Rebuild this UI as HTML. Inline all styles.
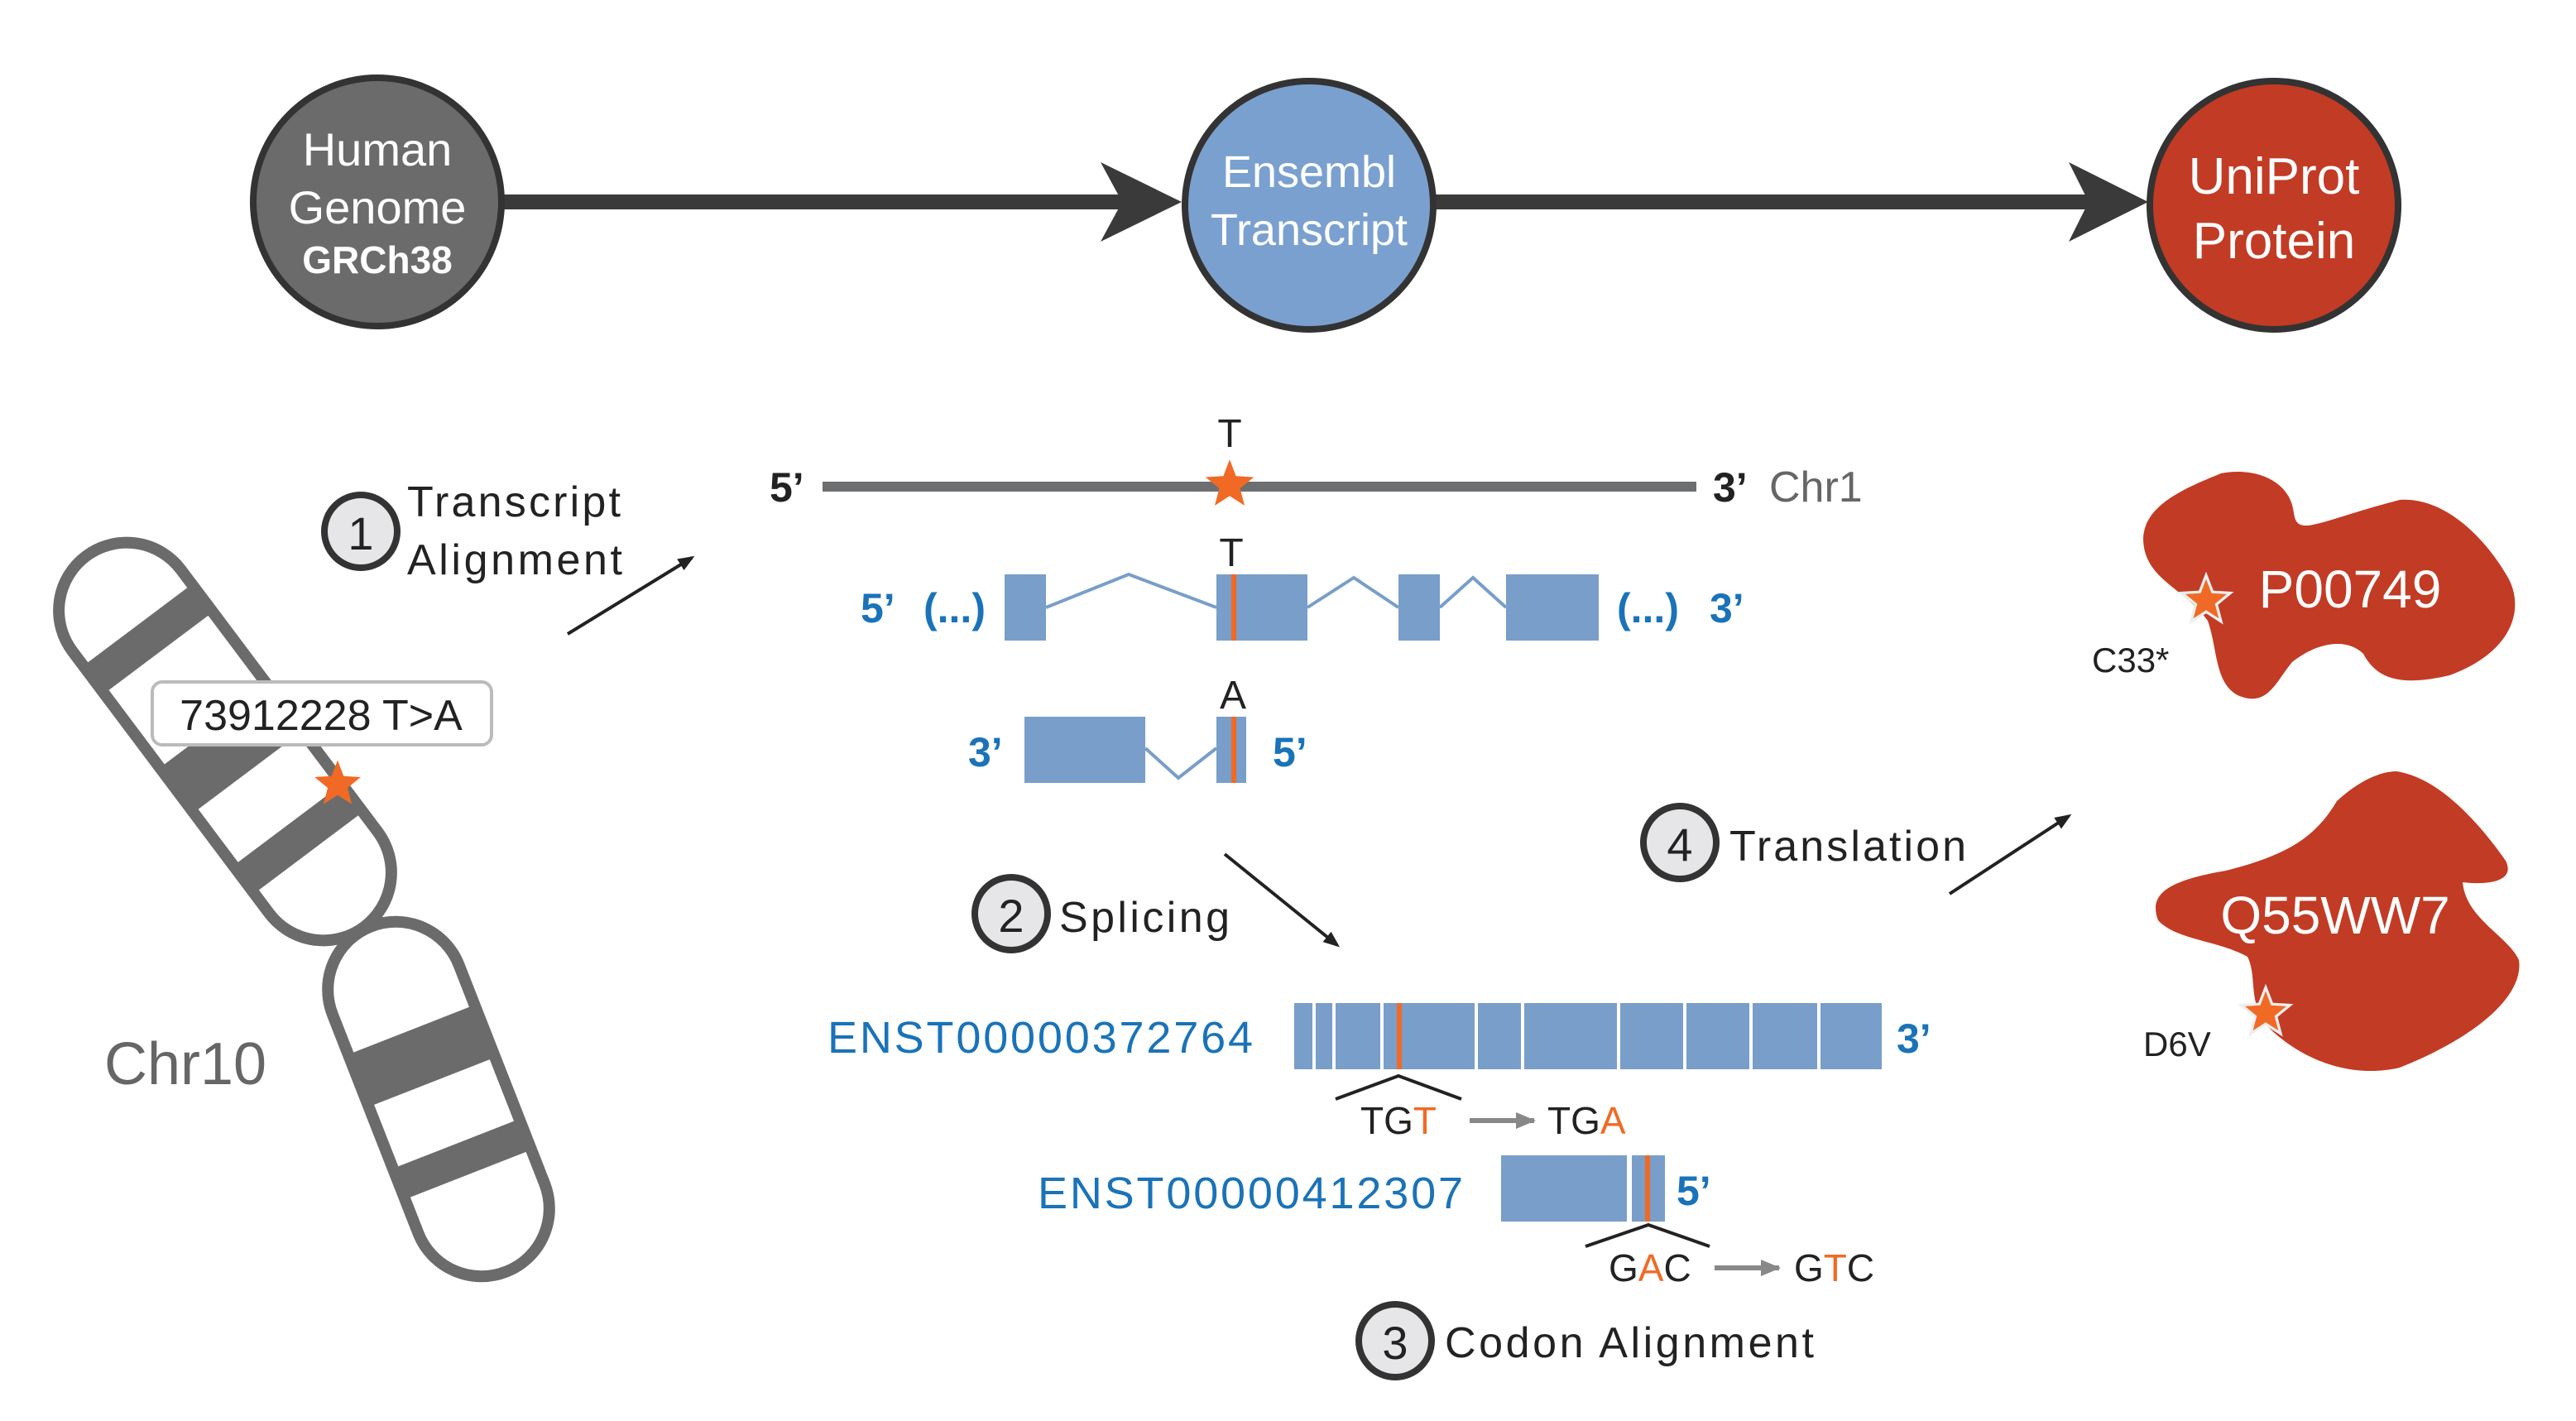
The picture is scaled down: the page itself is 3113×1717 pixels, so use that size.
<!DOCTYPE html>
<html><head><meta charset="utf-8"><style>
html,body{margin:0;padding:0;background:#fff;}
svg{display:block;}
text{font-family:"Liberation Sans",Arial,sans-serif;}
</style></head><body>
<svg width="3113" height="1717" viewBox="0 0 1556.5 858.5" preserveAspectRatio="none" xmlns="http://www.w3.org/2000/svg">
<defs>
<polygon id="star" points="0,-14 3.5,-4.9 13.3,-4.3 5.7,1.9 8.2,11.3 0,6 -8.2,11.3 -5.7,1.9 -13.3,-4.3 -3.5,-4.9"/>
<marker id="ah" markerWidth="10" markerHeight="10" refX="8" refY="5" orient="auto" markerUnits="userSpaceOnUse"><path d="M0,1 L10,5 L0,9 z" fill="#222"/></marker>
<marker id="gh" markerWidth="12" markerHeight="12" refX="11" refY="6" orient="auto" markerUnits="userSpaceOnUse"><path d="M0,1 L12,6 L0,11 z" fill="#888"/></marker>
</defs>

<line x1="300" y1="122" x2="680" y2="122" stroke="#3a3a3a" stroke-width="9"/>
<path d="M665,98 L714,122 L665,146 L678,122 z" fill="#3a3a3a"/>
<line x1="866" y1="122" x2="1262" y2="122" stroke="#3a3a3a" stroke-width="9"/>
<path d="M1250,98 L1298,122 L1250,146 L1262,122 z" fill="#3a3a3a"/>
<circle cx="228" cy="122" r="75" fill="#6b6b6b" stroke="#333" stroke-width="4"/>
<circle cx="791" cy="124" r="75" fill="#7aa0cf" stroke="#333" stroke-width="4"/>
<circle cx="1374" cy="124" r="75" fill="#c23b24" stroke="#333" stroke-width="4"/>
<text x="228" y="100" font-size="28" fill="#fff" text-anchor="middle">Human</text>
<text x="228" y="135" font-size="28" fill="#fff" text-anchor="middle">Genome</text>
<text x="228" y="165" font-size="23" fill="#fff" font-weight="bold" text-anchor="middle">GRCh38</text>
<text x="791" y="113" font-size="27" fill="#fff" text-anchor="middle">Ensembl</text>
<text x="791" y="148" font-size="27" fill="#fff" text-anchor="middle">Transcript</text>
<text x="1374" y="117" font-size="31" fill="#fff" text-anchor="middle">UniProt</text>
<text x="1374" y="156" font-size="31" fill="#fff" text-anchor="middle">Protein</text>

<g transform="translate(136,448) rotate(53.1)">
<rect x="-140" y="-41" width="280" height="82" rx="41" fill="#fff" stroke="#6b6b6b" stroke-width="7"/>
<rect x="-88" y="-41" width="21" height="82" fill="#6b6b6b"/>
<rect x="-11" y="-41" width="34" height="82" fill="#6b6b6b"/>
<rect x="63" y="-41" width="21" height="82" fill="#6b6b6b"/>
</g>
<g transform="translate(265,664) rotate(68.6)">
<rect x="-112" y="-41" width="224" height="82" rx="41" fill="#fff" stroke="#6b6b6b" stroke-width="7"/>
<rect x="-45" y="-41" width="34" height="82" fill="#6b6b6b"/>
<rect x="29" y="-41" width="20" height="82" fill="#6b6b6b"/>
</g>
<rect x="92" y="412" width="205" height="38" rx="6" fill="#fff" stroke="#bbb" stroke-width="2"/>
<text x="194" y="441" font-size="26" fill="#222" text-anchor="middle">73912228 T&gt;A</text>
<use href="#star" transform="translate(204,474) scale(1.05)" fill="#f06a25"/>
<text x="63" y="655" font-size="36" fill="#666">Chr10</text>

<circle cx="218" cy="321" r="22" fill="#e6e6e8" stroke="#333" stroke-width="4"/>
<text x="218" y="332" font-size="28" fill="#222" text-anchor="middle">1</text>
<text x="246" y="312" font-size="26" fill="#222" textLength="129">Transcript</text>
<text x="246" y="347" font-size="26" fill="#222" textLength="130">Alignment</text>
<line x1="343" y1="383" x2="418" y2="337" stroke="#222" stroke-width="2" marker-end="url(#ah)"/>

<line x1="497" y1="294" x2="1025" y2="294" stroke="#6d6e70" stroke-width="6"/>
<text x="465" y="303" font-size="25" font-weight="bold" fill="#222">5’</text>
<text x="1035" y="303" font-size="25" font-weight="bold" fill="#222">3’</text>
<text x="1069" y="303" font-size="26" fill="#666">Chr1</text>
<use href="#star" transform="translate(743,293) scale(1.1)" fill="#f06a25"/>
<text x="743" y="270" font-size="24" fill="#222" text-anchor="middle">T</text>

<g fill="#789ec9">
<rect x="607" y="347" width="25" height="40"/>
<rect x="735" y="347" width="55" height="40"/>
<rect x="845" y="347" width="25" height="40"/>
<rect x="910" y="347" width="56" height="40"/>
</g>
<polyline points="632,367 682,347 735,367" fill="none" stroke="#789ec9" stroke-width="2"/>
<polyline points="790,367 818,349 845,367" fill="none" stroke="#789ec9" stroke-width="2"/>
<polyline points="870,367 890,349 910,367" fill="none" stroke="#789ec9" stroke-width="2"/>
<rect x="744" y="347" width="3" height="40" fill="#f06a25"/>
<text x="744" y="342" font-size="24" fill="#222" text-anchor="middle">T</text>
<text x="520" y="376" font-size="25" font-weight="bold" fill="#1a73b8">5’</text>
<text x="558" y="376" font-size="25" font-weight="bold" fill="#1a73b8">(...)</text>
<text x="977" y="376" font-size="25" font-weight="bold" fill="#1a73b8">(...)</text>
<text x="1033" y="376" font-size="25" font-weight="bold" fill="#1a73b8">3’</text>

<rect x="619" y="433" width="73" height="40" fill="#789ec9"/>
<rect x="735" y="433" width="18" height="40" fill="#789ec9"/>
<polyline points="692,452 712,470 735,452" fill="none" stroke="#789ec9" stroke-width="2"/>
<rect x="744" y="433" width="3" height="40" fill="#f06a25"/>
<text x="745" y="428" font-size="24" fill="#222" text-anchor="middle">A</text>
<text x="585" y="463" font-size="25" font-weight="bold" fill="#1a73b8">3’</text>
<text x="769" y="463" font-size="25" font-weight="bold" fill="#1a73b8">5’</text>

<line x1="740" y1="516" x2="808" y2="571" stroke="#222" stroke-width="2" marker-end="url(#ah)"/>
<circle cx="611" cy="552" r="22" fill="#e6e6e8" stroke="#333" stroke-width="4"/>
<text x="611" y="563" font-size="28" fill="#222" text-anchor="middle">2</text>
<text x="640" y="563" font-size="26" fill="#222" textLength="103">Splicing</text>

<text x="500" y="636" font-size="27" fill="#1a73b8" textLength="257">ENST00000372764</text>
<rect x="782" y="606" width="355" height="40" fill="#789ec9"/>
<g fill="#fff">
<rect x="793" y="606" width="2" height="40"/><rect x="805" y="606" width="2" height="40"/>
<rect x="834" y="606" width="2" height="40"/><rect x="891" y="606" width="2" height="40"/>
<rect x="919" y="606" width="2" height="40"/><rect x="977" y="606" width="2" height="40"/>
<rect x="1017" y="606" width="2" height="40"/><rect x="1057" y="606" width="2" height="40"/>
<rect x="1098" y="606" width="2" height="40"/>
</g>
<rect x="844" y="606" width="3" height="40" fill="#f06a25"/>
<text x="1146" y="636" font-size="25" font-weight="bold" fill="#1a73b8">3’</text>
<polyline points="807,664 845,650 883,664" fill="none" stroke="#222" stroke-width="2"/>
<text x="822" y="685" font-size="23" fill="#222">TG<tspan fill="#f06a25">T</tspan></text>
<line x1="888" y1="677" x2="927" y2="677" stroke="#888" stroke-width="3" marker-end="url(#gh)"/>
<text x="935" y="685" font-size="23" fill="#222">TG<tspan fill="#f06a25">A</tspan></text>

<text x="627" y="730" font-size="27" fill="#1a73b8" textLength="257">ENST00000412307</text>
<rect x="907" y="698" width="99" height="40" fill="#789ec9"/>
<rect x="983" y="698" width="3" height="40" fill="#fff"/>
<rect x="994" y="698" width="3" height="40" fill="#f06a25"/>
<text x="1013" y="728" font-size="25" font-weight="bold" fill="#1a73b8">5’</text>
<polyline points="958,753 996,740 1033,753" fill="none" stroke="#222" stroke-width="2"/>
<text x="972" y="774" font-size="23" fill="#222">G<tspan fill="#f06a25">A</tspan>C</text>
<line x1="1036" y1="766" x2="1075" y2="766" stroke="#888" stroke-width="3" marker-end="url(#gh)"/>
<text x="1084" y="774" font-size="23" fill="#222">G<tspan fill="#f06a25">T</tspan>C</text>

<circle cx="843" cy="810" r="22" fill="#e6e6e8" stroke="#333" stroke-width="4"/>
<text x="843" y="821" font-size="28" fill="#222" text-anchor="middle">3</text>
<text x="873" y="820" font-size="26" fill="#222" textLength="223">Codon Alignment</text>

<circle cx="1015" cy="509" r="22" fill="#e6e6e8" stroke="#333" stroke-width="4"/>
<text x="1015" y="520" font-size="28" fill="#222" text-anchor="middle">4</text>
<text x="1045" y="520" font-size="26" fill="#222" textLength="143">Translation</text>
<line x1="1178" y1="540" x2="1250" y2="493" stroke="#222" stroke-width="2" marker-end="url(#ah)"/>

<path d="M1342,286 C1362,282 1384,290 1386,310 C1388,325 1400,315 1450,302 C1480,300 1505,330 1516,350 C1526,370 1516,395 1480,408 C1450,415 1436,410 1428,395 C1418,385 1400,388 1385,400 C1375,412 1370,428 1352,420 C1338,412 1340,392 1334,375 C1320,355 1295,350 1295,325 C1296,305 1320,295 1342,286 Z" fill="#c23b24"/>
<text x="1420" y="367" font-size="32" fill="#fff" text-anchor="middle">P00749</text>
<use href="#star" transform="translate(1333,363) scale(1.1)" fill="#f06a25" stroke="#eee" stroke-width="1.5"/>
<text x="1264" y="406" font-size="21" fill="#222">C33*</text>

<path d="M1448,466 C1475,470 1500,500 1514,520 C1520,532 1505,535 1488,533 C1490,555 1515,565 1522,580 C1525,600 1500,625 1450,645 C1420,652 1390,640 1370,620 C1358,605 1364,590 1358,578 C1340,568 1315,568 1304,556 C1298,540 1310,532 1345,526 C1385,516 1400,504 1412,484 C1425,472 1438,466 1448,466 Z" fill="#c23b24"/>
<text x="1411" y="564" font-size="32" fill="#fff" text-anchor="middle">Q55WW7</text>
<use href="#star" transform="translate(1369,612) scale(1.1)" fill="#f06a25" stroke="#eee" stroke-width="1.5"/>
<text x="1295" y="638" font-size="21" fill="#222">D6V</text>
</svg>
</body></html>
